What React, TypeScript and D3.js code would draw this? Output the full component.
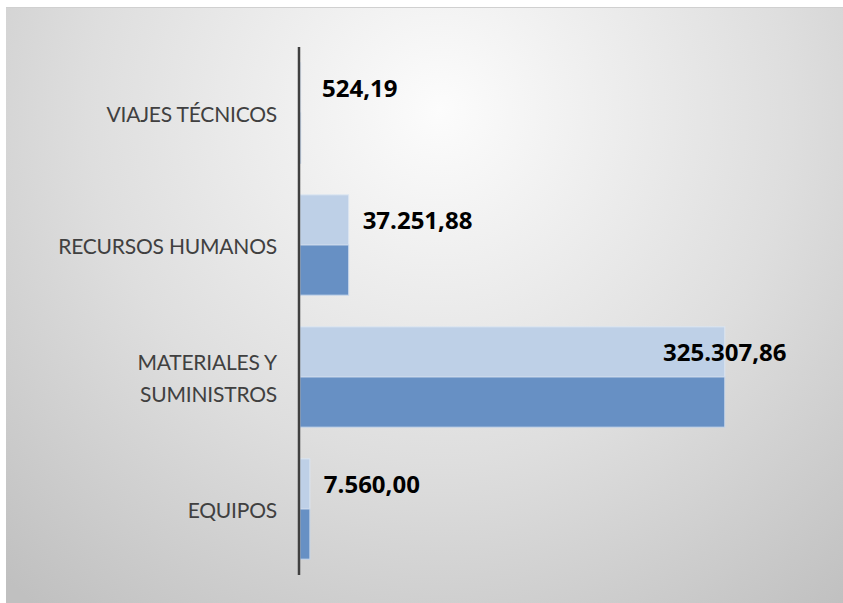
import React from "react";
import * as d3 from "d3";

const categories = ["VIAJES TÉCNICOS", "RECURSOS HUMANOS", "MATERIALES Y SUMINISTROS", "EQUIPOS"];
const categoryLines = [["VIAJES TÉCNICOS"], ["RECURSOS HUMANOS"], ["MATERIALES Y", "SUMINISTROS"], ["EQUIPOS"]];
const seriesLight = [524.19, 37251.88, 325307.86, 7560.0];
const seriesDark = [524.19, 37251.88, 325307.86, 7560.0];
const valueLabels = ["524,19", "37.251,88", "325.307,86", "7.560,00"];

const W = 843;
const H = 603;

export default function App() {
  const y = d3.scaleBand<string>().domain(categories).range([47, 575]).paddingInner(0.24).paddingOuter(0.12);
  const sub = d3.scaleBand<string>().domain(["light", "dark"]).range([0, y.bandwidth()]);
  const x = d3.scaleLinear().domain([0, 350000]).range([300, 757]);
  const fontCat = "Lato, 'Open Sans', sans-serif";
  const fontVal = "'Open Sans', Lato, sans-serif";

  return (
    <svg width={W} height={H} style={{ position: "absolute", left: 0, top: 0 }}>
      <defs>
        <radialGradient id="bg" gradientUnits="userSpaceOnUse" cx={440} cy={110} r={640}>
          <stop offset="0" stopColor="#fcfcfc" />
          <stop offset="0.55" stopColor="#dedede" />
          <stop offset="1" stopColor="#c0c0c0" />
        </radialGradient>
      </defs>
      <rect x={0} y={0} width={W} height={H} fill="#ffffff" />
      <rect x={6} y={7} width={W - 6} height={H - 7} fill="url(#bg)" />
      <line x1={6} x2={W} y1={7.5} y2={7.5} stroke="#d0d0d0" strokeWidth={1} />
      {categories.map((c, i) => {
        const y0 = y(c)!;
        const lightY = y0 + sub("light")!;
        const darkY = y0 + sub("dark")!;
        const bh = sub.bandwidth();
        return (
          <g key={c}>
            <rect x={x(0)} y={lightY} width={x(seriesLight[i]) - x(0)} height={bh} fill="#bed0e7" stroke="#dbe5f1" strokeWidth={1} />
            <rect x={x(0)} y={darkY} width={x(seriesDark[i]) - x(0)} height={bh} fill="#6790c4" stroke="#c7d6ea" strokeWidth={1} />
          </g>
        );
      })}
      <line x1={299} x2={299} y1={47} y2={575} stroke="#404040" strokeWidth={2.5} />
      {categories.map((c, i) => {
        const cy = y(c)! + y.bandwidth() / 2;
        const lines = categoryLines[i];
        const lh = 32;
        return (
          <text key={c} x={277} textAnchor="end" fontFamily={fontCat} fontSize={21} fill="#404040" letterSpacing={-0.2}>
            {lines.map((l, j) => (
              <tspan key={j} x={277} y={cy + (j - (lines.length - 1) / 2) * lh} dominantBaseline="central">
                {l}
              </tspan>
            ))}
          </text>
        );
      })}
      {categories.map((c, i) => {
        const cy = y(c)! + sub("light")! + sub.bandwidth() / 2;
        const end = x(seriesLight[i]);
        const estW = valueLabels[i].length * 13;
        const overflow = end + 14 + estW > W - 20;
        return (
          <text
            key={c}
            x={overflow ? end : Math.max(end + 14, 322)}
            y={cy}
            textAnchor={overflow ? "middle" : "start"}
            dominantBaseline="central"
            fontFamily={fontVal}
            fontWeight="bold"
            fontSize={24}
            fill="#000000"
          >
            {valueLabels[i]}
          </text>
        );
      })}
    </svg>
  );
}
